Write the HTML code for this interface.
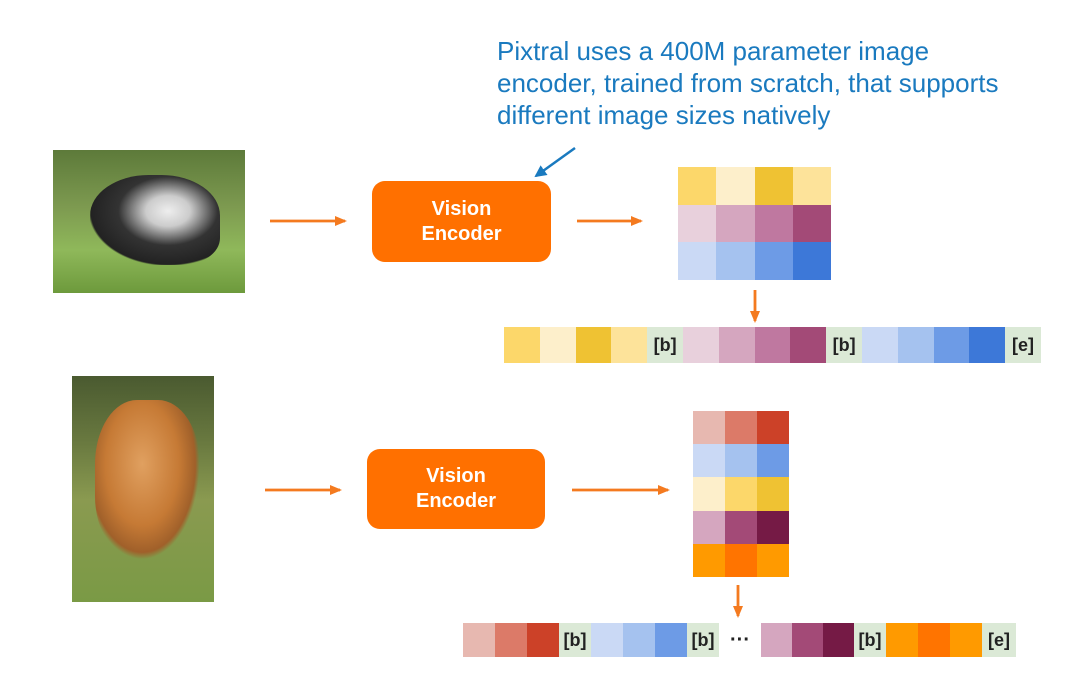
<!DOCTYPE html>
<html><head><style>
body{margin:0;width:1080px;height:685px;background:#fff;position:relative;overflow:hidden;font-family:"Liberation Sans",Arial,sans-serif}
.a{position:absolute}
.enc{position:absolute;background:#ff7000;border-radius:13px;color:#fff;font-weight:bold;font-size:20px;text-align:center;display:flex;align-items:center;justify-content:center;line-height:25px}
.txt{position:absolute;left:497px;color:#1a7abf;font-size:26px;line-height:32px}
.row{position:absolute;display:flex}
.row div{height:100%}
.t{background:#dbe9d6;font-weight:bold;font-size:18px;display:flex;align-items:center;justify-content:center;color:#222}
</style></head><body>
<div class="txt" style="top:35px">Pixtral uses a 400M parameter image<br>encoder, trained from scratch, that supports<br>different image sizes natively</div>

<div class="a" style="left:53px;top:150px;width:192px;height:143px;background:linear-gradient(180deg,#5d7a3a 0%,#7d9a50 40%,#8fb85a 70%,#6d9a3c 100%)"></div>
<div class="a" style="left:90px;top:175px;width:130px;height:90px;border-radius:45% 45% 30% 30%;background:radial-gradient(ellipse at 60% 40%,#eee 0%,#ccc 20%,#333 45%,#222 70%,transparent 72%)"></div>
<div class="a" style="left:72px;top:376px;width:142px;height:226px;background:linear-gradient(180deg,#4a5a30 0%,#6a7a40 30%,#8a9a50 55%,#7a9a45 100%)"></div>
<div class="a" style="left:95px;top:400px;width:105px;height:160px;border-radius:40%;background:radial-gradient(ellipse at 45% 40%,#e0a060 0%,#c67a35 45%,#a0602a 65%,transparent 70%)"></div>

<div class="enc" style="left:372px;top:181px;width:179px;height:81px">Vision<br>Encoder</div>
<div class="enc" style="left:367px;top:449px;width:178px;height:80px">Vision<br>Encoder</div>

<svg class="a" style="left:0;top:0" width="1080" height="685">
<defs><marker id="m" markerWidth="12" markerHeight="10" refX="10" refY="5" orient="auto" markerUnits="userSpaceOnUse"><path d="M0,0 L12,5 L0,10z" fill="#f47a1f"/></marker>
<marker id="mb" markerWidth="12" markerHeight="12" refX="10" refY="6" orient="auto" markerUnits="userSpaceOnUse"><path d="M0,0 L12,6 L0,12z" fill="#1a7abf"/></marker></defs>
<g stroke="#f47a1f" stroke-width="2.8" fill="none">
<path d="M270 221 H345" marker-end="url(#m)"/>
<path d="M577 221 H641" marker-end="url(#m)"/>
<path d="M755 290 V321" marker-end="url(#m)"/>
<path d="M265 490 H340" marker-end="url(#m)"/>
<path d="M572 490 H668" marker-end="url(#m)"/>
<path d="M738 585 V616" marker-end="url(#m)"/>
</g>
<path d="M575 148 L536 176" stroke="#1a7abf" stroke-width="2.5" marker-end="url(#mb)"/>
</svg>

<div class="a" style="left:678px;top:167px;width:153px;height:113px;display:grid;grid-template-columns:repeat(4,1fr);grid-template-rows:repeat(3,1fr)">
<div style="background:#fcd76a"></div><div style="background:#fdefcb"></div><div style="background:#efc233"></div><div style="background:#fde39a"></div>
<div style="background:#e8d0dc"></div><div style="background:#d5a6bf"></div><div style="background:#bf78a0"></div><div style="background:#a34a77"></div>
<div style="background:#cad9f5"></div><div style="background:#a5c2ef"></div><div style="background:#6d9be6"></div><div style="background:#3d78d8"></div>
</div>

<div class="row" style="left:504px;top:327px;width:537px;height:36px">
<div style="flex:1;background:#fcd76a"></div><div style="flex:1;background:#fdefcb"></div><div style="flex:1;background:#efc233"></div><div style="flex:1;background:#fde39a"></div>
<div class="t" style="flex:1">[b]</div>
<div style="flex:1;background:#e8d0dc"></div><div style="flex:1;background:#d5a6bf"></div><div style="flex:1;background:#bf78a0"></div><div style="flex:1;background:#a34a77"></div>
<div class="t" style="flex:1">[b]</div>
<div style="flex:1;background:#cad9f5"></div><div style="flex:1;background:#a5c2ef"></div><div style="flex:1;background:#6d9be6"></div><div style="flex:1;background:#3d78d8"></div>
<div class="t" style="flex:1">[e]</div>
</div>

<div class="a" style="left:693px;top:411px;width:96px;height:166px;display:grid;grid-template-columns:repeat(3,1fr);grid-template-rows:repeat(5,1fr)">
<div style="background:#e7b8b0"></div><div style="background:#dc7a68"></div><div style="background:#cc4128"></div>
<div style="background:#cad9f5"></div><div style="background:#a5c2ef"></div><div style="background:#6d9be6"></div>
<div style="background:#fdefcb"></div><div style="background:#fcd76a"></div><div style="background:#efc233"></div>
<div style="background:#d5a6bf"></div><div style="background:#a34a77"></div><div style="background:#751a45"></div>
<div style="background:#ff9a00"></div><div style="background:#ff7400"></div><div style="background:#ff9a00"></div>
</div>

<div class="row" style="left:463px;top:623px;width:553px;height:34px">
<div style="width:32px;background:#e7b8b0"></div><div style="width:32px;background:#dc7a68"></div><div style="width:32px;background:#cc4128"></div>
<div class="t" style="width:32px">[b]</div>
<div style="width:32px;background:#cad9f5"></div><div style="width:32px;background:#a5c2ef"></div><div style="width:32px;background:#6d9be6"></div>
<div class="t" style="width:32px">[b]</div>
<div style="width:42px;display:flex;align-items:center;justify-content:center;font-weight:bold;font-size:20px;color:#222;background:#fff">···</div>
<div style="width:31px;background:#d5a6bf"></div><div style="width:31px;background:#a34a77"></div><div style="width:31px;background:#751a45"></div>
<div class="t" style="width:32px">[b]</div>
<div style="width:32px;background:#ff9a00"></div><div style="width:32px;background:#ff7400"></div><div style="width:32px;background:#ff9a00"></div>
<div class="t" style="width:34px">[e]</div>
</div>
</body></html>
